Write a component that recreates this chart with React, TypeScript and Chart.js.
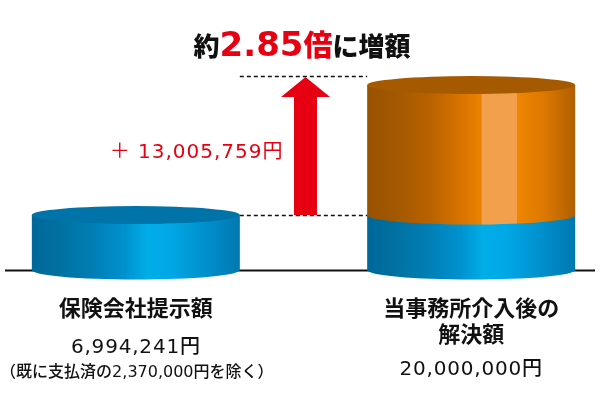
import React, { useEffect, useRef } from 'react';
import { Chart, registerables } from 'chart.js';

Chart.register(...registerables);

// ---- data ----
const categories = ['保険会社提示額', '', '当事務所介入後の解決額'];
const categoryLines = [['保険会社提示額'], [], ['当事務所介入後の', '解決額']];
const offerValues = [6994241, null, 6994241];
const increaseValues = [null, null, 13005759];
const amountLabels = ['6,994,241円', '', '20,000,000円'];
const noteLabels = ['（既に支払済の2,370,000円を除く）', '', ''];
const increaseLabel = '＋ 13,005,759円';
const titlePrefix = '約';
const titleRatio = '2.85';
const titleRatioUnit = '倍';
const titleSuffix = 'に増額';
const yMin = 1500000;
const yMax = 21500000;

const RED = '#e60012';
const JP = '"Noto Sans CJK JP", "Noto Sans", sans-serif';
const NUM = '"DejaVu Sans", "Noto Sans CJK JP", sans-serif';

function setSpacing(ctx: any, v: string) {
  try { ctx.letterSpacing = v; } catch (e) { /* ignore */ }
}

function blueGrad(ctx: CanvasRenderingContext2D, x0: number, x1: number) {
  const g = ctx.createLinearGradient(x0, 0, x1, 0);
  g.addColorStop(0, '#00689a');
  g.addColorStop(0.12, '#00709f');
  g.addColorStop(0.3, '#007fb6');
  g.addColorStop(0.45, '#0092d0');
  g.addColorStop(0.56, '#00aee8');
  g.addColorStop(0.66, '#00a8e6');
  g.addColorStop(0.85, '#008ecb');
  g.addColorStop(1, '#0078b0');
  return g;
}

function orangeGrad(ctx: CanvasRenderingContext2D, x0: number, x1: number) {
  const g = ctx.createLinearGradient(x0, 0, x1, 0);
  g.addColorStop(0, '#985200');
  g.addColorStop(0.12, '#a25700');
  g.addColorStop(0.3, '#b86200');
  g.addColorStop(0.45, '#d87300');
  g.addColorStop(0.548, '#ec8200');
  g.addColorStop(0.552, '#f3a04c');
  g.addColorStop(0.718, '#f3a04c');
  g.addColorStop(0.722, '#f08600');
  g.addColorStop(0.85, '#dc7800');
  g.addColorStop(1, '#b05f00');
  return g;
}

const cylinderPlugin = {
  id: 'cylinders',
  beforeDatasetsDraw(chart: any) {
    const { ctx, chartArea, scales } = chart;
    const y = scales.y;
    const x = scales.x;
    ctx.save();
    // baseline
    ctx.strokeStyle = '#111';
    ctx.lineWidth = 2;
    ctx.beginPath();
    ctx.moveTo(5, chartArea.bottom + 0.5);
    ctx.lineTo(595, chartArea.bottom + 0.5);
    ctx.stroke();

    const lowY = y.getPixelForValue(offerValues[0] as number);
    const total = (offerValues[2] as number) + (increaseValues[2] as number);
    const highY = y.getPixelForValue(total) - 9;
    const dx0 = x.getPixelForValue(0) + 104;
    const dx1 = x.getPixelForValue(2) - 104;
    ctx.setLineDash([4, 3]);
    ctx.lineWidth = 1.5;
    ctx.strokeStyle = '#111';
    ctx.beginPath();
    ctx.moveTo(dx0, Math.round(highY) + 0.5);
    ctx.lineTo(dx1, Math.round(highY) + 0.5);
    ctx.moveTo(dx0, Math.round(lowY) + 0.5);
    ctx.lineTo(dx1, Math.round(lowY) + 0.5);
    ctx.stroke();
    ctx.setLineDash([]);

    // arrow
    const ax = x.getPixelForValue(1) + 2;
    const tip = highY + 1;
    const headBase = tip + 20;
    ctx.fillStyle = RED;
    ctx.beginPath();
    ctx.moveTo(ax, tip);
    ctx.lineTo(ax + 24.5, headBase);
    ctx.lineTo(ax + 11.5, headBase);
    ctx.lineTo(ax + 11.5, lowY);
    ctx.lineTo(ax - 11.5, lowY);
    ctx.lineTo(ax - 11.5, headBase);
    ctx.lineTo(ax - 24.5, headBase);
    ctx.closePath();
    ctx.fill();

    // increase label
    const midY = y.getPixelForValue((offerValues[0] as number) + (increaseValues[2] as number) / 2);
    ctx.font = `400 20px ${NUM}`;
    ctx.textAlign = 'left';
    ctx.textBaseline = 'middle';
    setSpacing(ctx, '1px');
    const lw = ctx.measureText(increaseLabel).width;
    ctx.fillText(increaseLabel, ax - 22 - lw, midY + 3);
    setSpacing(ctx, '0px');
    ctx.restore();
  },
  afterDatasetsDraw(chart: any) {
    const { ctx, chartArea } = chart;
    const ds = chart.data.datasets;
    ctx.save();
    const ryB = 9.5;
    const ryT = 9;
    ds.forEach((d: any, di: number) => {
      const meta = chart.getDatasetMeta(di);
      meta.data.forEach((el: any, j: number) => {
        if (d.data[j] == null) return;
        const { x, y, width } = el.getProps(['x', 'y', 'width'], true);
        const base = Math.min(el.base, chartArea.bottom);
        const rx = width / 2;
        const x0 = x - rx;
        const x1 = x + rx;
        const isTop = !ds.some((o: any, oi: number) => oi > di && o.data[j] != null);
        ctx.fillStyle = di === 0 ? blueGrad(ctx, x0, x1) : orangeGrad(ctx, x0, x1);
        ctx.beginPath();
        ctx.moveTo(x0, y);
        ctx.lineTo(x0, base);
        ctx.ellipse(x, base, rx, ryB, 0, Math.PI, 0, true);
        ctx.lineTo(x1, y);
        ctx.closePath();
        ctx.fill();
        if (isTop) {
          ctx.fillStyle = di === 0 ? '#0074a8' : '#a65a00';
          ctx.beginPath();
          ctx.ellipse(x, y, rx, ryT, 0, 0, Math.PI * 2);
          ctx.fill();
        }
      });
    });
    ctx.restore();
  },
  afterDraw(chart: any) {
    const { ctx, scales } = chart;
    const xs = scales.x;
    ctx.save();
    ctx.textAlign = 'center';
    ctx.textBaseline = 'middle';
    ctx.fillStyle = '#111';
    categoryLines.forEach((lines, i) => {
      const cx = xs.getPixelForValue(i);
      ctx.font = `700 22px ${JP}`;
      lines.forEach((ln, k) => ctx.fillText(ln, cx, 308 + k * 26));
      if (amountLabels[i]) {
        ctx.font = `500 20px ${NUM}`;
        setSpacing(ctx, '0.8px');
        ctx.fillText(amountLabels[i], cx, lines.length > 1 ? 370 : 348);
        setSpacing(ctx, '0px');
      }
      if (noteLabels[i]) {
        ctx.font = `500 16px ${NUM}`;
        ctx.fillText(noteLabels[i], cx + 1, 373);
      }
    });

    // title
    const parts = [
      { t: titlePrefix, f: `900 26px ${JP}`, c: '#111' },
      { t: titleRatio, f: `700 34px ${NUM}`, c: RED },
      { t: titleRatioUnit, f: `900 29px ${JP}`, c: RED },
      { t: titleSuffix, f: `900 26px ${JP}`, c: '#111' },
    ];
    let totalW = 0;
    const widths = parts.map((p) => {
      ctx.font = p.f;
      const w = ctx.measureText(p.t).width;
      totalW += w;
      return w;
    });
    let px = 302 - totalW / 2;
    ctx.textAlign = 'left';
    ctx.textBaseline = 'alphabetic';
    parts.forEach((p, i) => {
      ctx.font = p.f;
      ctx.fillStyle = p.c;
      ctx.fillText(p.t, px, 56);
      px += widths[i];
    });
    ctx.restore();
  },
};

export default function App() {
  const ref = useRef<HTMLCanvasElement>(null);
  useEffect(() => {
    if (!ref.current) return;
    const chart = new Chart(ref.current, {
      type: 'bar',
      data: {
        labels: categories,
        datasets: [
          { label: '保険会社提示額', data: offerValues as any, backgroundColor: 'rgba(0,0,0,0)', barThickness: 208 },
          { label: '増額分', data: increaseValues as any, backgroundColor: 'rgba(0,0,0,0)', barThickness: 208 },
        ],
      },
      options: {
        animation: false,
        responsive: true,
        maintainAspectRatio: false,
        layout: { padding: { top: 70, bottom: 130, left: 52, right: 45 } },
        plugins: { legend: { display: false }, tooltip: { enabled: false }, title: { display: false } },
        scales: {
          x: { display: false, stacked: true },
          y: { display: false, stacked: true, min: yMin, max: yMax, beginAtZero: false },
        },
      },
      plugins: [cylinderPlugin],
    });
    return () => chart.destroy();
  }, []);
  return (
    <div style={{ position: 'fixed', left: 0, top: 0, width: 600, height: 400, background: '#fff' }}>
      <canvas ref={ref} />
    </div>
  );
}
